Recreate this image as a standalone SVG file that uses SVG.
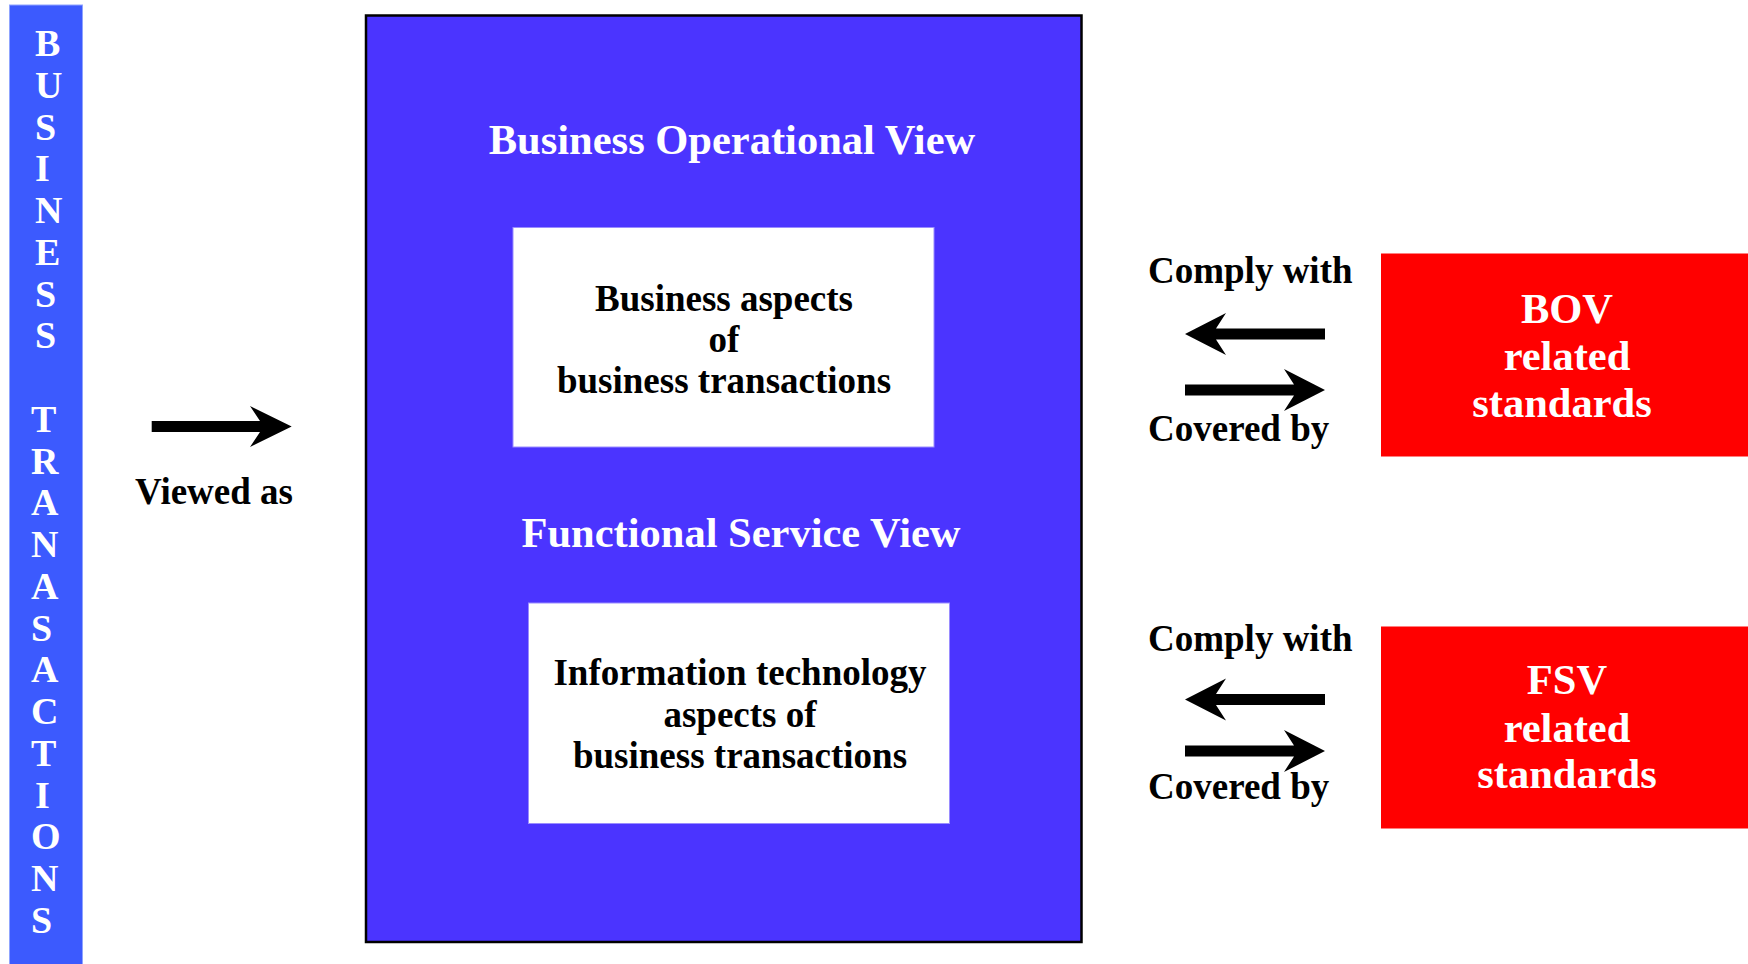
<svg xmlns="http://www.w3.org/2000/svg" width="1748" height="964" viewBox="0 0 1748 964">
<defs>
<style>
text{font-family:"Liberation Serif","Times New Roman",serif;font-weight:bold}
.w{fill:#ffffff}
.k{fill:#000000}
.c{text-anchor:middle}
.t42{font-size:42.5px}
.t37{font-size:37px}
.v{font-size:38px;fill:#ffffff}
.arrow{fill:#000000}
</style>
</defs>
<rect width="1748" height="964" fill="#ffffff"/>

<g id="business-transactions">
<rect x="9.5" y="5" width="73" height="962" fill="#3C5AFE" stroke="#8FA4FF" stroke-width="1"/>
<text class="v" x="35" y="56">B</text>
<text class="v" x="35" y="97.75">U</text>
<text class="v" x="35" y="139.5">S</text>
<text class="v" x="35" y="181.25">I</text>
<text class="v" x="35" y="223">N</text>
<text class="v" x="35" y="264.75">E</text>
<text class="v" x="35" y="306.5">S</text>
<text class="v" x="35" y="348.25">S</text>
<text class="v" x="31" y="431.75">T</text>
<text class="v" x="31" y="473.5">R</text>
<text class="v" x="31" y="515.25">A</text>
<text class="v" x="31" y="557">N</text>
<text class="v" x="31" y="598.75">A</text>
<text class="v" x="31" y="640.5">S</text>
<text class="v" x="31" y="682.25">A</text>
<text class="v" x="31" y="724">C</text>
<text class="v" x="31" y="765.75">T</text>
<text class="v" x="35" y="807.5">I</text>
<text class="v" x="31" y="849.25">O</text>
<text class="v" x="31" y="891">N</text>
<text class="v" x="31" y="932.75">S</text>
</g>

<g id="views">
<rect x="366" y="15.5" width="715.5" height="926.5" fill="#4B34FF" stroke="#000000" stroke-width="2.5"/>
<text class="w c t42" x="732" y="153.5">Business Operational View</text>
<text class="w c t42" x="741" y="547">Functional Service View</text>
</g>

<g id="business-aspects">
<rect x="513" y="227.5" width="421" height="219.5" fill="#ffffff" stroke="#9A8CFF" stroke-width="1"/>
<text class="k c t37" x="724" y="311">Business aspects</text>
<text class="k c t37" x="724" y="352">of</text>
<text class="k c t37" x="724" y="393">business transactions</text>
</g>

<g id="it-aspects">
<rect x="528.5" y="603" width="421" height="220.5" fill="#ffffff" stroke="#9A8CFF" stroke-width="1"/>
<text class="k c t37" x="740" y="685">Information technology</text>
<text class="k c t37" x="740" y="727">aspects of</text>
<text class="k c t37" x="740" y="768">business transactions</text>
</g>

<g id="bov-standards">
<rect x="1381" y="253.5" width="370" height="203" fill="#FF0000"/>
<text class="w c t42" x="1567" y="323">BOV</text>
<text class="w c t42" x="1567" y="370">related</text>
<text class="w c t42" x="1562" y="416.5">standards</text>
</g>

<g id="fsv-standards">
<rect x="1381" y="626.5" width="370" height="202" fill="#FF0000"/>
<text class="w c t42" x="1567" y="694">FSV</text>
<text class="w c t42" x="1567" y="741.5">related</text>
<text class="w c t42" x="1567" y="788">standards</text>
</g>

<g id="connectors">
<polygon class="arrow" points="151.7,421 260,421 250,406 291.7,426.5 250,447 260,432 151.7,432"/>
<text class="k c t37" x="214" y="504">Viewed as</text>

<polygon class="arrow" points="1325,328.5 1216,328.5 1226,313 1185,334 1226,355 1216,339.5 1325,339.5"/>
<polygon class="arrow" points="1185,384.5 1294,384.5 1284,369 1325,390 1284,411 1294,395.5 1185,395.5"/>
<text class="k t37" x="1148" y="282.5">Comply with</text>
<text class="k t37" x="1148" y="441">Covered by</text>

<polygon class="arrow" points="1325,694 1216,694 1226,678.5 1185,699.5 1226,720.5 1216,705 1325,705"/>
<polygon class="arrow" points="1185,745.5 1294,745.5 1284,730 1325,751 1284,772 1294,756.5 1185,756.5"/>
<text class="k t37" x="1148" y="651">Comply with</text>
<text class="k t37" x="1148" y="798.5">Covered by</text>
</g>
</svg>
